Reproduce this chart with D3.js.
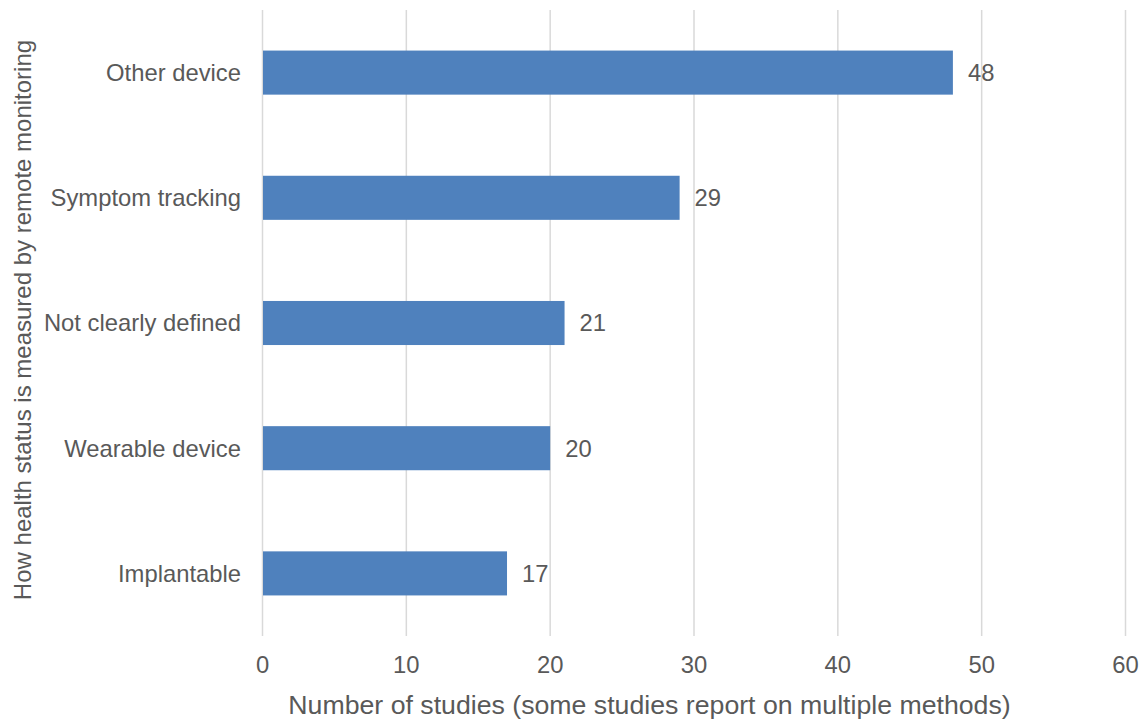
<!DOCTYPE html>
<html><head><meta charset="utf-8">
<script src="https://cdn.jsdelivr.net/npm/d3@7"></script>
<style>html,body{margin:0;padding:0;background:#fff;}text{font-family:"Liberation Sans",Arial,sans-serif;fill:#595959;}</style>
</head><body>
<svg id="c" width="1146" height="722"></svg>
<script>
const categories = ["Other device","Symptom tracking","Not clearly defined","Wearable device","Implantable"];
const values = [48,29,21,20,17];
const xTicks = [0,10,20,30,40,50,60];
const xTitle = "Number of studies (some studies report on multiple methods)";
const yTitle = "How health status is measured by remote monitoring";

const svg = d3.select("#c");
const pL = 262.5, pR = 1125.5, pT = 10, pB = 636;
const x = d3.scaleLinear().domain([0,60]).range([pL,pR]);
const y = d3.scaleBand().domain(categories).range([pT,pB]).paddingInner(0.648).paddingOuter(0.324);

svg.append("g").selectAll("line").data(xTicks).join("line")
  .attr("x1",d=>x(d)).attr("x2",d=>x(d)).attr("y1",pT).attr("y2",pB)
  .attr("stroke","#d9d9d9").attr("stroke-width",1.5);

svg.append("g").selectAll("rect").data(values).join("rect")
  .attr("x",x(0)+0.5).attr("y",(d,i)=>y(categories[i]))
  .attr("width",d=>x(d)-x(0)-0.5).attr("height",y.bandwidth())
  .attr("fill","#4f81bd");

svg.append("g").selectAll("text").data(values).join("text")
  .attr("x",d=>x(d)+15).attr("y",(d,i)=>y(categories[i])+y.bandwidth()/2)
  .attr("dy","0.35em").attr("font-size",23.8).text(d=>d);

svg.append("g").selectAll("text").data(categories).join("text")
  .attr("x",241).attr("y",d=>y(d)+y.bandwidth()/2).attr("dy","0.35em")
  .attr("text-anchor","end").attr("font-size",23.8).text(d=>d);

svg.append("g").selectAll("text").data(xTicks).join("text")
  .attr("x",d=>x(d)).attr("y",665).attr("dy","0.35em")
  .attr("text-anchor","middle").attr("font-size",23.8).text(d=>d);

svg.append("text").attr("x",649.5).attr("y",705).attr("dy","0.35em")
  .attr("text-anchor","middle").attr("font-size",26.7).text(xTitle);

svg.append("text").attr("transform","translate(23,320) rotate(-90)").attr("dy","0.35em")
  .attr("text-anchor","middle").attr("font-size",24).text(yTitle);
</script>
</body></html>
